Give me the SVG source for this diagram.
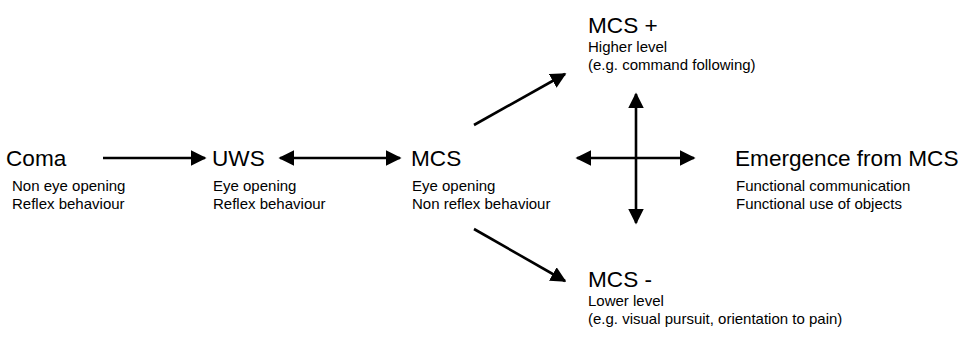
<svg xmlns="http://www.w3.org/2000/svg" width="964" height="338" viewBox="0 0 964 338">
<style>
.t{font-family:"Liberation Sans",Arial,sans-serif;font-size:22.6px;fill:#000}
.s{font-family:"Liberation Sans",Arial,sans-serif;font-size:15px;fill:#000}
.c line{stroke:#000;stroke-width:2.6}
</style>
<defs>
<marker id="ah" viewBox="0 0 10 10" refX="9" refY="5" markerWidth="6" markerHeight="6" orient="auto-start-reverse" markerUnits="strokeWidth">
<path d="M0,0 L10,5 L0,10 Z" fill="#000"/>
</marker>
</defs>
<rect width="964" height="338" fill="#fff"/>
<g id="coma"><text class="t" x="6" y="166">Coma</text><text class="s" x="12" y="191">Non eye opening</text><text class="s" x="12" y="209">Reflex behaviour</text></g>
<g id="uws"><text class="t" x="212" y="166">UWS</text><text class="s" x="213" y="191">Eye opening</text><text class="s" x="213" y="209">Reflex behaviour</text></g>
<g id="mcs"><text class="t" x="411" y="166">MCS</text><text class="s" x="412" y="191">Eye opening</text><text class="s" x="412" y="209">Non reflex behaviour</text></g>
<g id="mcsplus"><text class="t" x="588" y="33">MCS +</text><text class="s" x="588" y="52">Higher level</text><text class="s" x="588" y="70">(e.g. command following)</text></g>
<g id="mcsminus"><text class="t" x="588" y="287">MCS -</text><text class="s" x="588" y="306">Lower level</text><text class="s" x="588" y="324">(e.g. visual pursuit, orientation to pain)</text></g>
<g id="emcs"><text class="t" x="735" y="166">Emergence from MCS</text><text class="s" x="736" y="191">Functional communication</text><text class="s" x="736" y="209">Functional use of objects</text></g>
<g class="c" id="connectors">
<line x1="103" y1="158" x2="205" y2="158" marker-end="url(#ah)"/>
<line x1="280" y1="158" x2="400" y2="158" marker-start="url(#ah)" marker-end="url(#ah)"/>
<line x1="474" y1="125" x2="565" y2="74" marker-end="url(#ah)"/>
<line x1="474" y1="229" x2="565" y2="281" marker-end="url(#ah)"/>
<line x1="577" y1="158" x2="694" y2="158" marker-start="url(#ah)" marker-end="url(#ah)"/>
<line x1="636" y1="94" x2="636" y2="223" marker-start="url(#ah)" marker-end="url(#ah)"/>
</g>
</svg>
